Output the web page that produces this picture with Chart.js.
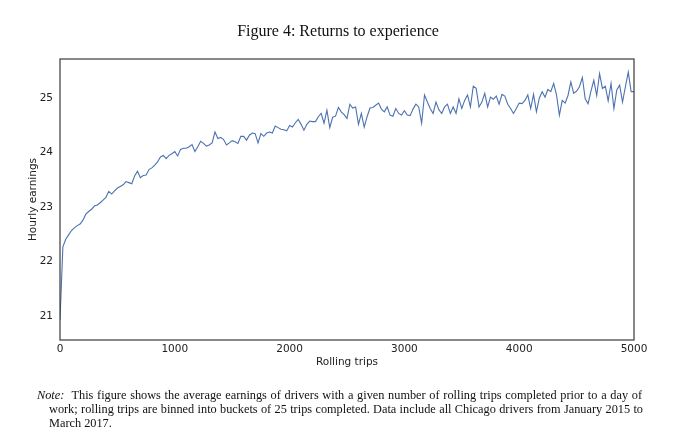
<!DOCTYPE html>
<html>
<head>
<meta charset="utf-8">
<script src="https://cdn.jsdelivr.net/npm/chart.js"></script>
<style>
  body { margin: 0; background: #fff; }
  #wrap { position: relative; width: 690px; height: 445px; }
  #chart { position: absolute; left: 0; top: 0; }
  .fig-title {
    position: absolute; left: 0; width: 676px; top: 22px;
    text-align: center; font-family: 'Liberation Serif', serif; font-size: 16px; color: #111;
  }
  .note {
    position: absolute; font-family: 'Liberation Serif', serif; font-size: 12.3px; color: #111;
    text-align: justify; text-align-last: justify; white-space: nowrap;
  }
  .note.last { text-align-last: left; }
</style>
</head>
<body>
<div id="wrap">
  <canvas id="chart" width="690" height="445"></canvas>
  <div class="fig-title">Figure 4: Returns to experience</div>
  <div class="note" style="left:37px; top:388px; width:605px;"><i>Note:</i>&nbsp; This figure shows the average earnings of drivers with a given number of rolling trips completed prior to a day of</div>
  <div class="note" style="left:49px; top:402px; width:594px;">work; rolling trips are binned into buckets of 25 trips completed. Data include all Chicago drivers from January 2015 to</div>
  <div class="note last" style="left:49px; top:416px; width:594px;">March 2017.</div>
</div>
<script>
// hourly earnings per bucket of 25 rolling trips (0 .. 5000)
const EARNINGS = [
  20.93, 22.27, 22.41, 22.49, 22.57, 22.62, 22.66, 22.69, 22.76, 22.87, 22.92, 22.96, 23.02, 23.04, 23.08, 23.13, 23.18,
  23.29, 23.24, 23.30, 23.35, 23.38, 23.41, 23.47, 23.45, 23.43, 23.57, 23.66, 23.54, 23.58, 23.59, 23.69, 23.72, 23.77,
  23.83, 23.92, 23.95, 23.89, 23.95, 23.98, 24.02, 23.94, 24.06, 24.08, 24.08, 24.11, 24.15, 24.02, 24.11, 24.21, 24.17,
  24.12, 24.14, 24.18, 24.38, 24.26, 24.28, 24.24, 24.14, 24.18, 24.22, 24.20, 24.17, 24.30, 24.30, 24.23, 24.32, 24.36,
  24.35, 24.18, 24.35, 24.30, 24.36, 24.38, 24.36, 24.49, 24.46, 24.43, 24.42, 24.40, 24.50, 24.47, 24.55, 24.61, 24.52,
  24.41, 24.52, 24.58, 24.57, 24.57, 24.66, 24.72, 24.54, 24.78, 24.46, 24.65, 24.67, 24.83, 24.75, 24.70, 24.63,
  24.89, 24.82, 24.84, 24.52, 24.72, 24.47, 24.66, 24.82, 24.83, 24.87, 24.91, 24.80, 24.75, 24.84, 24.69, 24.67, 24.81,
  24.72, 24.69, 24.77, 24.69, 24.68, 24.80, 24.89, 24.84, 24.54, 25.06, 24.93, 24.81, 24.72, 24.93, 24.79, 24.72, 24.84, 24.89,
  24.72, 24.84, 24.72, 24.99, 24.81, 24.96, 25.06, 24.84, 25.22, 25.18, 24.84, 24.93, 25.09, 24.84, 25.02, 24.98, 25.04,
  24.89, 25.07, 25.04, 24.89, 24.81, 24.72, 24.81, 24.91, 24.90, 24.96, 25.06, 24.81, 25.07, 24.75, 25.00, 25.12,
  25.02, 25.16, 25.12, 25.27, 25.06, 24.69, 24.96, 24.91, 25.05, 25.30, 25.09, 25.13, 25.21, 25.38, 24.99, 24.90,
  25.13, 25.33, 25.05, 25.45, 25.18, 25.22, 24.95, 25.27, 24.81, 25.15, 25.24, 24.93, 25.21, 25.48, 25.12, 25.12
];
const BIN_SIZE = 25;
const TRIPS = EARNINGS.map((_, i) => i * BIN_SIZE);
const X_TICKS = [0, 1000, 2000, 3000, 4000, 5000];
const Y_TICKS = [21, 22, 23, 24, 25];

const tickFont = { family: 'DejaVu Sans', size: 10.5 };

// plot frame like the matplotlib box
const frame = {
  id: 'frame',
  afterDraw(chart) {
    const a = chart.chartArea;
    const ctx = chart.ctx;
    ctx.save();
    ctx.strokeStyle = '#3a3a3a';
    ctx.lineWidth = 1.2;
    ctx.strokeRect(a.left, a.top, a.right - a.left, a.bottom - a.top);
    ctx.restore();
  }
};

new Chart(document.getElementById('chart'), {
  type: 'line',
  data: {
    datasets: [{
      data: TRIPS.map((x, i) => ({ x, y: EARNINGS[i] })),
      borderColor: '#4c72b0',
      borderWidth: 1.1,
      pointRadius: 0,
      tension: 0,
      fill: false
    }]
  },
  options: {
    responsive: false,
    animation: false,
    layout: { padding: { left: 23, right: 56, top: 59, bottom: 72 } },
    plugins: { legend: { display: false }, tooltip: { enabled: false } },
    scales: {
      x: {
        type: 'linear',
        min: 0,
        max: 5000,
        afterBuildTicks: s => { s.ticks = X_TICKS.map(v => ({ value: v })); },
        afterFit: s => { s.height = 33; },
        grid: { display: false, drawTicks: false },
        border: { display: false },
        ticks: { font: tickFont, color: '#222', padding: 3, maxRotation: 0, callback: v => String(v) },
        title: { display: true, text: 'Rolling trips', font: tickFont, color: '#222' }
      },
      y: {
        min: 20.56,
        max: 25.72,
        afterBuildTicks: s => { s.ticks = Y_TICKS.map(v => ({ value: v })); },
        afterFit: s => { s.width = 37; },
        grid: { display: false, drawTicks: false },
        border: { display: false },
        ticks: { font: tickFont, color: '#222', padding: 7, callback: v => String(v) },
        title: { display: true, text: 'Hourly earnings', font: tickFont, color: '#222' }
      }
    }
  },
  plugins: [frame]
});
</script>
</body>
</html>
